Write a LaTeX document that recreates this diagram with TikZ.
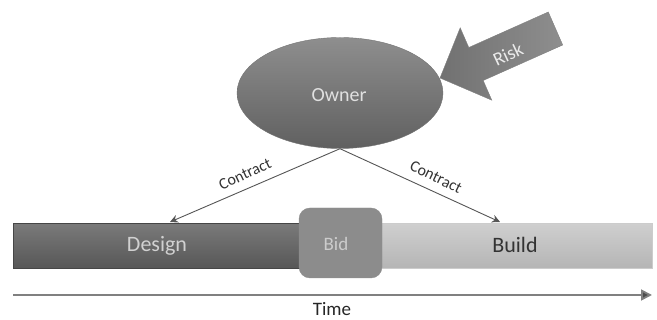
\documentclass[tikz,border=0pt]{standalone}
\usepackage{fontspec}
\setmainfont{Carlito}
\usetikzlibrary{shapes.geometric,arrows.meta}
\definecolor{ownTop}{HTML}{8E8E8E}
\definecolor{ownBot}{HTML}{606060}
\definecolor{desTop}{HTML}{7A7A7A}
\definecolor{desBot}{HTML}{575757}
\definecolor{bldTop}{HTML}{CFCFCF}
\definecolor{bldBot}{HTML}{B5B5B5}
\definecolor{bidFill}{HTML}{8C8C8C}
\definecolor{riskDark}{HTML}{717171}
\definecolor{riskLight}{HTML}{8E8E8E}
\definecolor{lineCol}{HTML}{555555}
\begin{document}
\begin{tikzpicture}[x=1pt,y=-1pt,
  lbl/.style={font=\fontsize{#1}{#1}\selectfont, inner sep=0pt},
  conn/.style={draw=lineCol, line width=0.9pt, -{Stealth[length=8pt,width=8pt]}},
]
\useasboundingbox (0,0) rectangle (657,320);
% bar
\node[draw=desBot!80!black, top color=desTop, bottom color=desBot, minimum width=327pt, minimum height=45pt, inner sep=0pt, anchor=north west] (design) at (13,223) {};
\node[draw=black!20, top color=bldTop, bottom color=bldBot, minimum width=312pt, minimum height=45pt, inner sep=0pt, anchor=north west] (build) at (340,223) {};
\node[lbl=22, text=black!18] (designtxt) at (157,246) {Design};
\node[lbl=22, text=black!80] (buildtxt) at (515,245) {Build};
% bid
\node[fill=bidFill, draw=black!45, rounded corners=11pt, minimum width=83pt, minimum height=70pt, inner sep=0pt] (bid) at (340.5,243) {};
\node[lbl=19, text=black!20] (bidtxt) at (336,244) {Bid};
% owner
\node[ellipse, draw=black!55, top color=ownTop, bottom color=ownBot, minimum width=206pt, minimum height=111pt, inner sep=0pt] (owner) at (340,93) {};
\node[lbl=20, text=black!12] (ownertxt) at (339,95) {Owner};
% risk arrow
\draw[draw=black!50, left color=riskDark, right color=riskLight]
  (440,78) -- (460.2,27.8) -- (468.8,47.5) -- (548.3,12) -- (562.7,45) -- (483.2,80.5) -- (491.8,100.2) -- cycle;
\node[lbl=19, text=black!8, rotate=25] (risktxt) at (508,54) {Risk};
% contract arrows
\coordinate (dtip) at (170,222);
\coordinate (btip) at (500,222);
\draw[conn] (owner.south) -- (dtip);
\draw[conn] (owner.south) -- (btip);
\node[lbl=16, text=black!80, rotate=25] (c1) at (245,174) {Contract};
\node[lbl=16, text=black!80, rotate=-26] (c2) at (436,177) {Contract};
% time
\coordinate (t0) at (13,295);
\coordinate (t1) at (652,295);
\draw[draw=black!50, line width=1.8pt, -{Triangle[length=11pt,width=11pt,fill=black!70]}] (t0) -- (t1);
\node[lbl=19, text=black!85] (time) at (332,309) {Time};
\end{tikzpicture}
\end{document}
